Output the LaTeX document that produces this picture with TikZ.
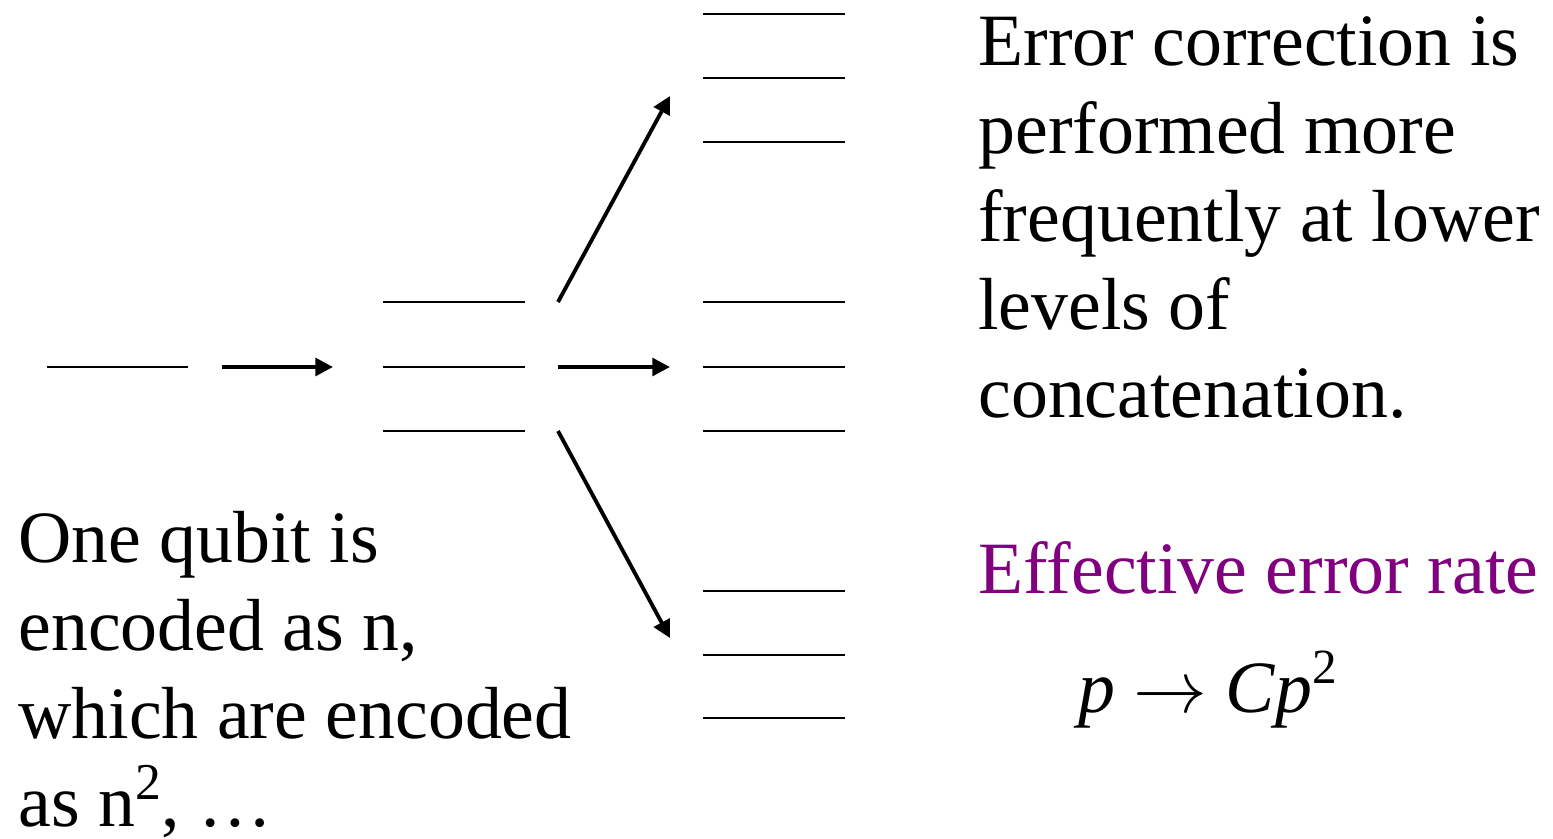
\RequirePackage{fix-cm}
\documentclass[tikz,border=0pt]{standalone}
\usepackage{fontspec}
\setmainfont{Liberation Serif}
\definecolor{effpurple}{HTML}{800080}
\usetikzlibrary{arrows.meta}

\begin{document}
\begin{tikzpicture}[
  x=0.02cm, y=-0.02cm,
  qline/.style={line width=1.6pt},
  encarrow/.style={line width=2.2pt, -{Triangle[length=10pt, width=10pt]}},
  txt/.style={inner sep=0pt, anchor=base west, align=left,
              font=\fontsize{42}{50}\selectfont},
]
  \useasboundingbox (0,0) rectangle (1553,839);

  \draw[qline] (47,367) -- (188,367);
  \foreach \y in {302,367,431}
    \draw[qline] (383,\y) -- (525,\y);
  \foreach \y in {14,78,142,302,367,431,591,655,718}
    \draw[qline] (703,\y) -- (845,\y);

  \coordinate (enc-s) at (222,367);
  \coordinate (enc-e) at (333,367);
  \coordinate (up-s) at (558,302);
  \coordinate (up-e) at (670,96);
  \coordinate (mid-s) at (558,367);
  \coordinate (mid-e) at (670,367);
  \coordinate (down-s) at (558,431);
  \coordinate (down-e) at (670,638);

  \draw[encarrow] (enc-s) -- (enc-e);
  \draw[encarrow] (up-s) -- (up-e);
  \draw[encarrow] (mid-s) -- (mid-e);
  \draw[encarrow] (down-s) -- (down-e);

  \node[txt] (corr) at (978,417) {Error correction is\\performed more\\frequently at lower\\levels of\\concatenation.};
  \node[txt, text=effpurple] (eff) at (978,593) {Effective error rate};
  \node[txt] (rate) at (1078,712) {\itshape p $\rightarrow$ Cp\raisebox{16pt}{\upshape\fontsize{28}{28}\selectfont 2}};
  \node[txt] (qubit) at (18,826) {One qubit is\\encoded as n,\\which are encoded\\as n\textsuperscript{2}, …};
\end{tikzpicture}
\end{document}
